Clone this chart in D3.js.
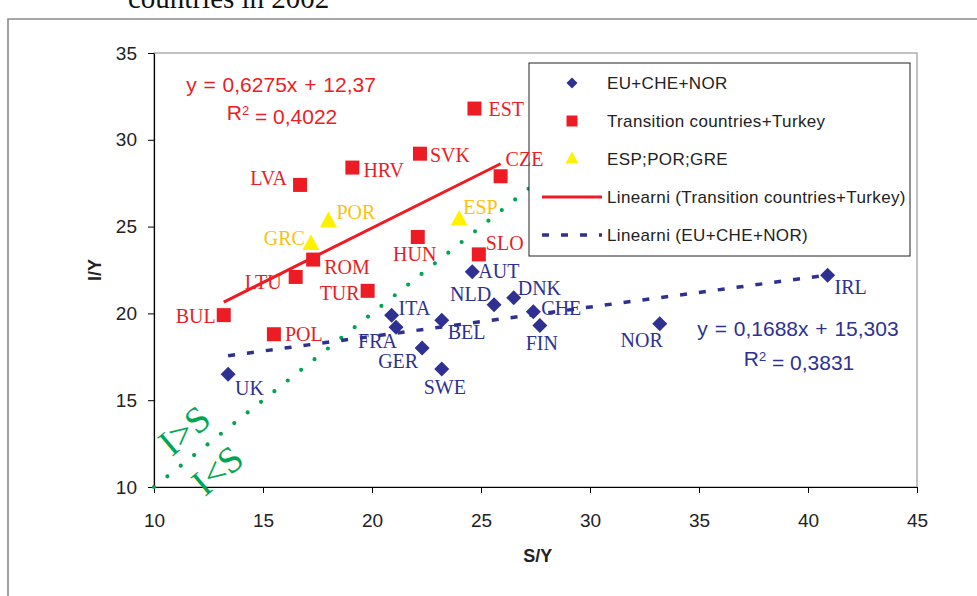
<!DOCTYPE html>
<html>
<head>
<meta charset="utf-8">
<script src="https://cdn.jsdelivr.net/npm/d3@7"></script>
<style>
  body { margin: 0; background: #fff; }
  svg text { font-family: "Liberation Sans", Arial, sans-serif; }
</style>
</head>
<body>
<div id="chart"></div>
<script>
// ---- data ----
const euNames = ["UK", "ITA", "FRA", "GER", "SWE", "BEL", "AUT", "NLD", "DNK", "CHE", "FIN", "NOR", "IRL"];
const euS = [13.4, 20.9, 21.1, 22.3, 23.2, 23.2, 24.6, 25.6, 26.5, 27.4, 27.7, 33.2, 40.9];
const euI = [16.5, 19.9, 19.2, 18.0, 16.8, 19.6, 22.4, 20.5, 20.9, 20.1, 19.3, 19.4, 22.2];

const trNames = ["EST", "CZE", "SVK", "HRV", "LVA", "HUN", "SLO", "ROM", "LTU", "TUR", "BUL", "POL"];
const trS = [24.7, 25.9, 22.2, 19.1, 16.7, 22.1, 24.9, 17.3, 16.5, 19.8, 13.2, 15.5];
const trI = [31.8, 27.9, 29.2, 28.4, 27.4, 24.4, 23.4, 23.1, 22.1, 21.3, 19.9, 18.8];

const soNames = ["ESP", "POR", "GRC"];
const soS = [24.0, 18.0, 17.2];
const soI = [25.4, 25.3, 24.0];

// trend line coefficients (as printed on the chart)
const trFit = { slope: 0.6275, intercept: 12.37, r2: "0,4022", label: "y = 0,6275x + 12,37" };
const euFit = { slope: 0.1688, intercept: 15.303, r2: "0,3831", label: "y = 0,1688x + 15,303" };

// I = S reference line
const diagonal = [10, 30];

const xTicks = [10, 15, 20, 25, 30, 35, 40, 45];
const yTicks = [10, 15, 20, 25, 30, 35];

const legendItems = ["EU+CHE+NOR", "Transition countries+Turkey", "ESP;POR;GRE",
  "Linearni (Transition countries+Turkey)", "Linearni (EU+CHE+NOR)"];

// ---- colours ----
const RED = "#ed1c24", BLUE = "#2e3192", YELLOW = "#fff200", GOLD = "#fbc20f", GREEN = "#00a651";

// label placement [anchor, dx, dy] relative to the marker
const labelPos = {
  EST: ["start", 14, 0], CZE: ["start", 5, -17], SVK: ["start", 10, 1], HRV: ["start", 11, 2],
  LVA: ["end", -13, -7], HUN: ["middle", -3, 17], SLO: ["start", 7, -11], ROM: ["start", 11, 7],
  LTU: ["end", -14, 5], TUR: ["end", -8, 2], BUL: ["end", -8, 1], POL: ["start", 11, 0],
  ESP: ["start", 4, -13], POR: ["start", 8, -9], GRC: ["end", -6, -6],
  UK: ["start", 7, 14], ITA: ["start", 7, -7], FRA: ["end", 1, 14], GER: ["end", -4, 13],
  SWE: ["middle", 3, 18], BEL: ["start", 6, 12], AUT: ["start", 6, -1], NLD: ["end", -3, -11],
  DNK: ["start", 4, -10], CHE: ["start", 8, -4], FIN: ["middle", 2, 17], NOR: ["end", 3, 16],
  IRL: ["start", 7, 12]
};

const W = 977, H = 596;
const margin = { top: 53, right: 60, bottom: 109, left: 154 };
const width = W - margin.left - margin.right,
      height = H - margin.top - margin.bottom;

const x = d3.scaleLinear().domain([10, 45]).range([0, width]);
const y = d3.scaleLinear().domain([10, 35]).range([height, 0]);

const root = d3.select("#chart").append("svg")
  .attr("width", W).attr("height", H);

root.append("rect").attr("width", W).attr("height", H).attr("fill", "#fff");

// page title fragment, cut off at the top as in the source page
root.append("text")
  .attr("x", 128).attr("y", 8)
  .style("font-family", "'Liberation Serif', 'Times New Roman', serif")
  .style("font-size", "29px")
  .attr("fill", "#111")
  .text("countries in 2002");

// outer chart frame
root.append("path")
  .attr("d", `M8,${H} V19 H${W}`)
  .attr("fill", "none").attr("stroke", "#8a8a8a").attr("stroke-width", 1.6);

const svg = root.append("g")
  .attr("transform", `translate(${margin.left},${margin.top})`);

// plot area border
svg.append("rect")
  .attr("width", width).attr("height", height)
  .attr("fill", "none").attr("stroke", "#9a9a9a").attr("stroke-width", 1.2);

// axes
const yAxis = svg.append("g")
  .call(d3.axisLeft(y).tickValues(yTicks).tickSize(6).tickSizeOuter(0).tickPadding(11));
const xAxis = svg.append("g")
  .attr("transform", `translate(0,${height})`)
  .call(d3.axisBottom(x).tickValues(xTicks).tickSize(6).tickSizeOuter(0).tickPadding(21));
[xAxis, yAxis].forEach(ax => {
  ax.select(".domain").attr("stroke", "#000").attr("stroke-width", 1.2);
  ax.selectAll(".tick line").attr("stroke", "#000");
  ax.selectAll("text").style("font-size", "19px").attr("fill", "#222")
    .style("font-family", "'Liberation Sans', Arial, sans-serif");
});

// axis titles
svg.append("text")
  .attr("x", x(27.6)).attr("y", height + 75)
  .attr("text-anchor", "middle")
  .style("font-size", "18px").style("font-weight", "bold").attr("fill", "#222")
  .text("S/Y");
svg.append("text")
  .attr("transform", `translate(${95 - margin.left},${270 - margin.top}) rotate(-90)`)
  .attr("text-anchor", "middle").attr("dy", "0.35em")
  .style("font-size", "18px").style("font-weight", "bold").attr("fill", "#222")
  .text("I/Y");

// I = S dotted line
const line = d3.line().x(d => x(d[0])).y(d => y(d[1]));
svg.append("path")
  .attr("d", line(diagonal.map(v => [v, v])))
  .attr("fill", "none").attr("stroke", GREEN).attr("stroke-width", 4.2)
  .attr("stroke-linecap", "round").attr("stroke-dasharray", "0 17.1");

// trend lines
function fitLine(fit, xs) {
  const ext = d3.extent(xs);
  return ext.map(v => [v, fit.slope * v + fit.intercept]);
}
svg.append("path")
  .attr("d", line(fitLine(trFit, trS)))
  .attr("fill", "none").attr("stroke", RED).attr("stroke-width", 3);
svg.append("path")
  .attr("d", line(fitLine(euFit, euS)))
  .attr("fill", "none").attr("stroke", BLUE).attr("stroke-width", 3.5)
  .attr("stroke-dasharray", "7 12");

// markers
const diamond = r => `M0,${-r}L${r},0L0,${r}L${-r},0Z`;
const square = r => `M${-r},${-r}H${r}V${r}H${-r}Z`;
const triangle = r => `M0,${-r * 1.15}L${r},${r * 0.7}L${-r},${r * 0.7}Z`;

function series(names, xs, ys, shape, size, fill, labelColor) {
  const pts = names.map((n, i) => ({ name: n, s: xs[i], v: ys[i] }));
  svg.append("g").selectAll("path").data(pts).enter().append("path")
    .attr("transform", d => `translate(${x(d.s)},${y(d.v)})`)
    .attr("d", shape(size)).attr("fill", fill);
  return pts.map(p => Object.assign(p, { color: labelColor }));
}

const labels = []
  .concat(series(trNames, trS, trI, square, 7, RED, RED))
  .concat(series(soNames, soS, soI, triangle, 8.5, YELLOW, GOLD))
  .concat(series(euNames, euS, euI, diamond, 7.5, BLUE, BLUE));

// legend (covers the upper part of the I = S line)
const lg = root.append("g").attr("transform", "translate(529,63)");
lg.append("rect").attr("width", 381).attr("height", 193)
  .attr("fill", "#fff").attr("stroke", "#222").attr("stroke-width", 1);
const rowY = i => 20 + i * 38;
lg.append("path").attr("transform", `translate(43,${rowY(0)})`).attr("d", diamond(5.5)).attr("fill", BLUE);
lg.append("path").attr("transform", `translate(43,${rowY(1)})`).attr("d", square(5.5)).attr("fill", RED);
lg.append("path").attr("transform", `translate(43,${rowY(2)})`).attr("d", triangle(6.5)).attr("fill", YELLOW);
lg.append("line").attr("x1", 13).attr("x2", 73).attr("y1", rowY(3)).attr("y2", rowY(3))
  .attr("stroke", RED).attr("stroke-width", 3);
lg.append("line").attr("x1", 13).attr("x2", 73).attr("y1", rowY(4)).attr("y2", rowY(4))
  .attr("stroke", BLUE).attr("stroke-width", 3.5).attr("stroke-dasharray", "7 12");
lg.selectAll("text.item").data(legendItems).enter().append("text")
  .attr("class", "item")
  .attr("x", 78).attr("y", (d, i) => rowY(i)).attr("dy", "0.35em")
  .style("font-size", "17px").style("letter-spacing", "0.35px").attr("fill", "#222")
  .text(d => d);

// data labels, drawn over the legend edge like the original
const labelLayer = root.append("g")
  .attr("transform", `translate(${margin.left},${margin.top})`);
labelLayer.selectAll("text").data(labels).enter().append("text")
  .attr("x", d => x(d.s) + labelPos[d.name][1])
  .attr("y", d => y(d.v) + labelPos[d.name][2])
  .attr("dy", "0.35em")
  .attr("text-anchor", d => labelPos[d.name][0])
  .style("font-family", "'Liberation Serif', 'Times New Roman', serif")
  .style("font-size", "20px")
  .attr("fill", d => d.color)
  .text(d => d.name);

// I>S / I<S annotations
const ang = -40;
[["I>S", 184, 430], ["I<S", 217, 470]].forEach(([t, px, py]) => {
  root.append("text")
    .attr("transform", `translate(${px},${py}) rotate(${ang})`)
    .attr("text-anchor", "middle").attr("dy", "0.35em")
    .style("font-family", "'Liberation Serif', 'Times New Roman', serif")
    .style("font-size", "37px")
    .attr("fill", GREEN)
    .text(t);
});

// regression equations
function equation(fit, cx, cy, gap, color) {
  const g = root.append("g").attr("fill", color).style("font-size", "21px");
  g.append("text").attr("x", cx).attr("y", cy).attr("dy", "0.35em")
    .attr("text-anchor", "middle").style("word-spacing", "1px").text(fit.label);
  const t = g.append("text").attr("x", cx + 1).attr("y", cy + gap)
    .attr("dy", "0.35em").attr("text-anchor", "middle");
  t.append("tspan").text("R");
  t.append("tspan").attr("dy", "-0.45em").style("font-size", "13px").text("2");
  t.append("tspan").attr("dy", "0.45em").text(" = " + fit.r2);
}
equation(trFit, 281, 85, 28, RED);
equation(euFit, 798, 329, 30, BLUE);
</script>
</body>
</html>
